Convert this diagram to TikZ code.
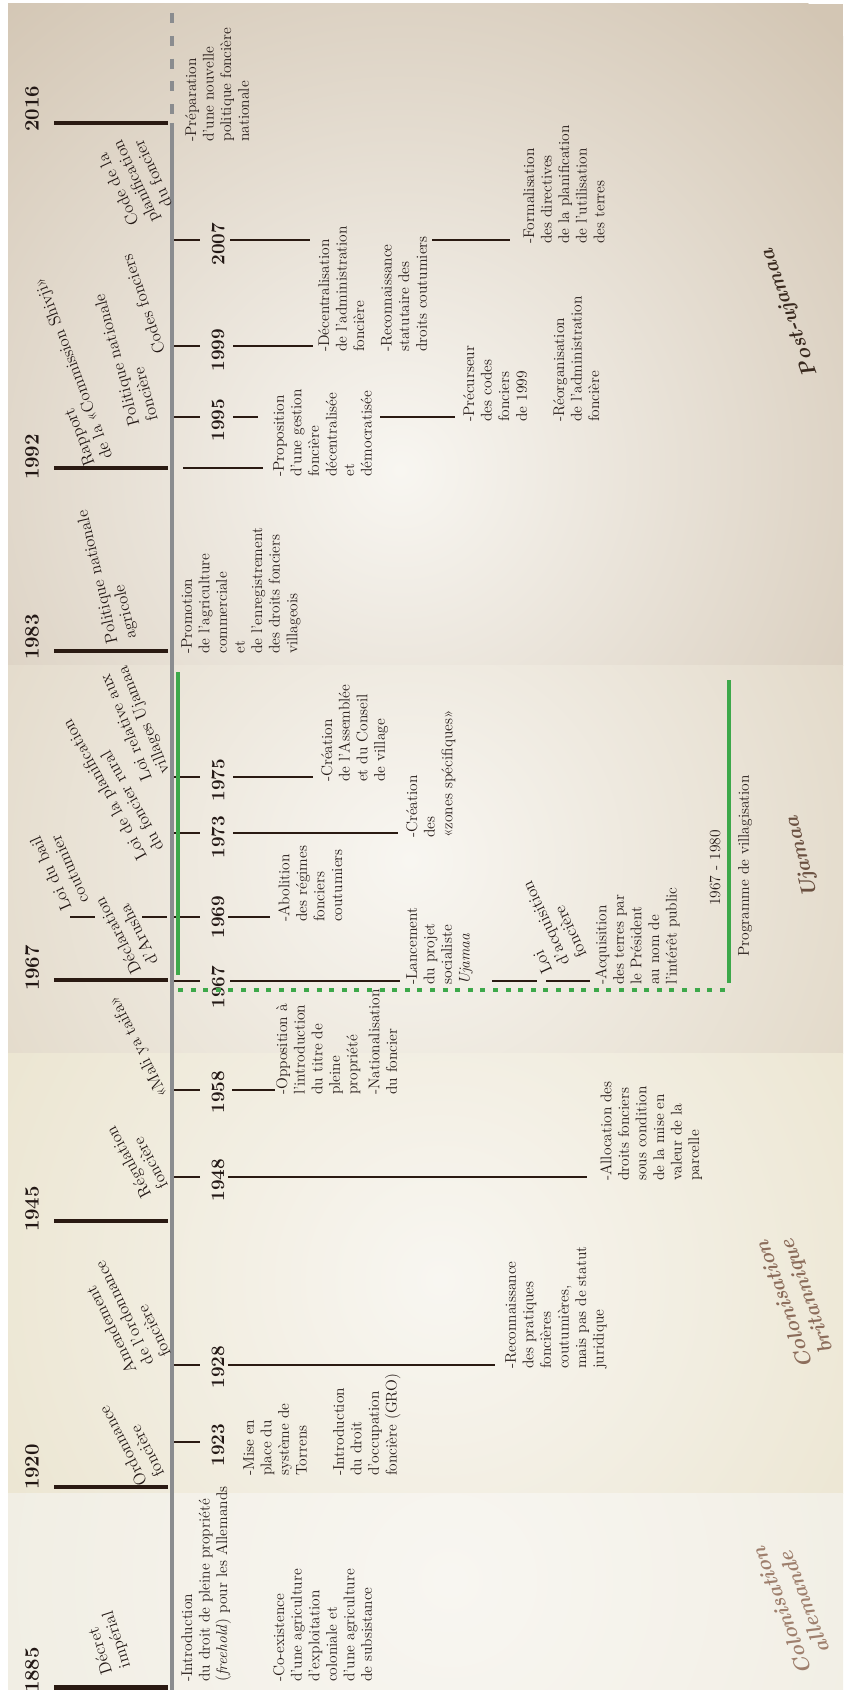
\documentclass[tikz,border=0pt]{standalone}
\usepackage{fontspec}
\usetikzlibrary{positioning}

\definecolor{ink}{HTML}{231815}
\definecolor{tickc}{HTML}{2A1A12}
\definecolor{axisc}{HTML}{8A8C8F}
\definecolor{greenc}{HTML}{3DA84A}
\definecolor{bgpost}{HTML}{D3C6B4}
\definecolor{bguja}{HTML}{DFD5C3}
\definecolor{bgbrit}{HTML}{E9E2CB}
\definecolor{bgall}{HTML}{F0EDE2}
\definecolor{glow}{HTML}{F8F6F1}
\definecolor{erapost}{HTML}{3A2A1F}
\definecolor{erauja}{HTML}{6A5040}
\definecolor{erabrit}{HTML}{8C6D5B}
\definecolor{eraall}{HTML}{9E7F6D}

\begin{document}
\begin{tikzpicture}[x=0.25mm, y=-0.25mm,
  eratick/.style={draw=tickc, line width=1mm},
  evline/.style={draw=tickc, line width=0.5mm},
  greenline/.style={draw=greenc, line width=1.1mm},
  greendot/.style={draw=greenc, line width=1mm, dash pattern=on 1.25mm off 1.9mm},
  bigyear/.style={rotate=90, inner sep=0pt, text=ink, font=\fontsize{14.5}{16}\selectfont\bfseries},
  smallyear/.style={rotate=90, inner sep=0pt, text=ink, font=\fontsize{13.5}{15}\selectfont\bfseries},
  desc/.style={rotate=90, anchor=north west, align=left, inner sep=0pt, text=ink, font=\fontsize{11}{12.5}\selectfont},
  law/.style={anchor=north west, align=left, inner sep=0pt, text=ink, font=\fontsize{12}{13.5}\selectfont},
  eralabel/.style={align=center, inner sep=0pt, font=\fontsize{15}{17}\selectfont\bfseries\itshape}]

% background bands
\fill[white] (0,0) rectangle (843,1690);
\foreach \bg/\ya/\yb/\gx/\gy/\gr in {bgpost/4/665/400/470/620, bguja/665/1053/410/860/560,
    bgbrit/1053/1493/440/1280/600, bgall/1493/1690/450/1580/520}{
  \begin{scope}
    \clip (8,\ya) rectangle (843,\yb);
    \fill[\bg] (8,\ya) rectangle (843,\yb);
    \shade[inner color=glow, outer color=\bg] (\gx,\gy) circle (\gr);
  \end{scope}
}
\useasboundingbox (0,0) rectangle (843,1690);

% axis
\coordinate (axtop) at (172,13);
\coordinate (ax2016) at (172,123);
\coordinate (axbot) at (172,1690);
\draw[axisc, line width=0.9mm, dash pattern=on 2.5mm off 3.2mm] (axtop) -- (ax2016);
\draw[axisc, line width=0.9mm] (ax2016) -- (axbot);

% periods
\foreach \yr/\yy/\ty in {2016/123/109, 1992/468/457, 1983/651/637, 1967/980/968,
    1945/1221/1209, 1920/1487/1467}{
  \coordinate (ea\yr) at (168,\yy);
  \coordinate (eb\yr) at (54,\yy);
  \draw[eratick] (eb\yr) -- (ea\yr);
  \node[bigyear] (Y\yr) at (32,\ty) {\yr};
}
\coordinate (ea1885) at (168,1688);
\coordinate (eb1885) at (54,1688);
\draw[draw=tickc, line width=1.6mm] (eb1885) -- (ea1885);
\node[bigyear] (Y1885) at (32,1670) {1885};

% events
\foreach \yr/\yy/\ty in {2007/240/244, 1999/346/350, 1995/417/420, 1975/777/780,
    1973/833/837, 1969/917/917, 1967/981/987, 1958/1090/1092, 1948/1177/1180,
    1928/1365/1367, 1923/1442/1445}{
  \coordinate (ta\yr) at (174,\yy);
  \coordinate (tb\yr) at (200,\yy);
  \draw[evline] (ta\yr) -- (tb\yr);
  \node[smallyear] (y\yr) at (218,\ty) {\yr};
}
\foreach \yy/\xa/\xb in {240/230/310, 240/432/510, 346/233/313, 417/233/258, 417/380/455,
    468/183/263, 777/233/313, 833/233/398, 917/228/270, 917/142/167, 917/70/95,
    981/230/400, 981/492/537, 981/546/590, 1090/232/275, 1177/228/587, 1365/228/495}{
  \coordinate (sa) at (\xa,\yy);
  \coordinate (sb) at (\xb,\yy);
  \draw[evline] (sa) -- (sb);
}

% texts on the right
\node[desc] (d2016) at (185,142) {-Préparation\\d'une nouvelle\\politique foncière\\nationale};
\node[desc] (d2007) at (523,244) {-Formalisation\\des directives\\de la planification\\de l'utilisation\\des terres};
\node[desc] (d1999) at (318,352) {-Décentralisation\\de l'administration\\foncière\\[7pt]-Reconnaissance\\statutaire des\\droits coutumiers};
\node[desc] (d1995) at (463,422) {-Précurseur\\des codes\\fonciers\\de 1999\\[14pt]-Réorganisation\\de l'administration\\foncière};
\node[desc] (d1992) at (273,477) {-Proposition\\d'une gestion\\foncière\\décentralisée\\et\\démocratisée};
\node[desc] (d1983) at (181,654) {-Promotion\\de l'agriculture\\commerciale\\et\\de l'enregistrement\\des droits fonciers\\villageois};
\node[desc] (d1975) at (321,782) {-Création\\de l'Assemblée\\et du Conseil\\de village};
\node[desc] (d1973) at (406,838) {-Création\\des\\«zones spécifiques»};
\node[desc] (d1969) at (278,922) {-Abolition\\des régimes\\fonciers\\coutumiers};
\node[desc] (d1967a) at (406,985) {-Lancement\\du projet\\socialiste\\\textit{Ujamaa}};
\node[desc] (d1967b) at (595,985) {-Acquisition\\des terres par\\le Président\\au nom de\\l'intérêt public};
\node[desc] (d1958) at (276,1095) {-Opposition à\\l'introduction\\du titre de\\pleine\\propriété\\[3pt]-Nationalisation\\du foncier};
\node[desc] (d1948) at (600,1181) {-Allocation des\\droits fonciers\\sous condition\\de la mise en\\valeur de la\\parcelle};
\node[desc] (d1928) at (505,1369) {-Reconnaissance\\des pratiques\\foncières\\coutumières,\\mais pas de statut\\juridique};
\node[desc] (d1923) at (243,1476) {-Mise en\\place du\\système de\\Torrens\\[14pt]-Introduction\\du droit\\d'occupation\\foncière (GRO)};
\node[desc] (d1885) at (181,1682) {-Introduction\\du droit de pleine propriété\\(\textit{freehold}) pour les Allemands\\[28pt]-Co-existence\\d'une agriculture\\d'exploitation\\coloniale et\\d'une agriculture\\de subsistance};

% laws on the left
\node[law, rotate=108] (l1885) at (101,1676) {Décret\\impérial};
\node[law, rotate=117] (l1920) at (137,1488) {Ordonnance\\foncière};
\node[law, rotate=116] (l1928) at (126,1376) {Amendement\\de l'ordonnance\\foncière};
\node[law, rotate=118] (l1948) at (141,1200) {Régulation\\foncière};
\node[law, rotate=117] (l1958) at (157,1100) {«Mali ya taifa»};
\node[law, rotate=117] (l1967) at (131,976) {Déclaration\\d'Arusha};
\node[law, rotate=114] (l1969) at (61,913) {Loi du bail\\coutumier};
\node[law, rotate=119] (l1973) at (137,863) {Loi de la planification\\du foncier rural};
\node[law, rotate=112] (l1975) at (141,783) {Loi relative aux\\villages Ujamaa};
\node[law, rotate=103] (l1983) at (106,645) {Politique nationale\\agricole};
\node[law, rotate=111] (l1992) at (84,468) {Rapport\\de la «Commission Shivji»};
\node[law, rotate=105] (l1995) at (128,428) {Politique nationale\\foncière};
\node[law, rotate=109] (l1999) at (154,356) {Codes fonciers};
\node[law, rotate=115, anchor=center, align=center] (l2007) at (135,182) {Code de la\\planification\\du foncier};
\node[law, rotate=115] (l1967b) at (542,976) {Loi\\d'acquisition\\foncière};

% villagisation
\coordinate (ga) at (178,672);
\coordinate (gb) at (178,975);
\coordinate (gc) at (178,990);
\coordinate (gd) at (732,990);
\coordinate (ge) at (729,680);
\coordinate (gf) at (729,983);
\draw[greenline] (ga) -- (gb);
\draw[greendot] (gc) -- (gd);
\draw[greenline] (ge) -- (gf);
\node[rotate=90, inner sep=0pt, text=ink, font=\fontsize{11}{12.5}\selectfont] (per) at (715,868) {1967 - 1980};
\node[rotate=90, anchor=west, inner sep=0pt, text=ink, font=\fontsize{11}{12.5}\selectfont] (prog) at (745,957) {Programme de villagisation};

% periods names
\node[eralabel, text=erapost, rotate=110] (ePost) at (790,313) {Post-ujamaa};
\node[eralabel, text=erauja, rotate=104] (eUja) at (803,857) {Ujamaa};
\node[eralabel, text=erabrit, rotate=110] (eBrit) at (797,1300) {Colonisation\\britannique};
\node[eralabel, text=eraall, rotate=111] (eAll) at (793,1607) {Colonisation\\allemande};
\end{tikzpicture}
\end{document}
